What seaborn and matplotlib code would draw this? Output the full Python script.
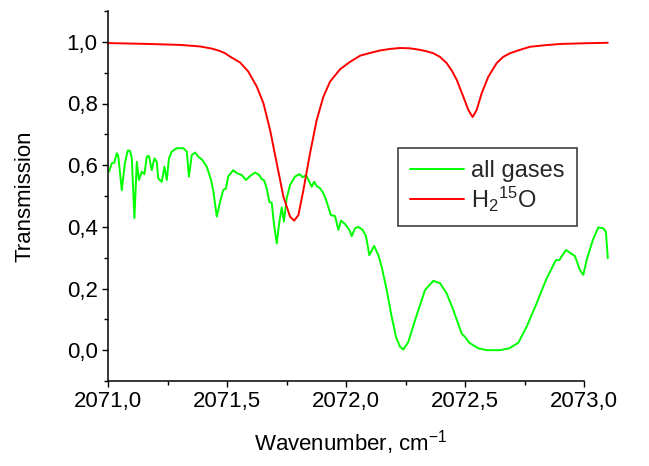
import matplotlib
matplotlib.use("Agg")
import matplotlib.pyplot as plt
import matplotlib.ticker as mticker
import seaborn as sns

# ---- data ----
green_x = [2071.004, 2071.016, 2071.026, 2071.037, 2071.043, 2071.058, 2071.071, 2071.083,
           2071.092, 2071.100, 2071.111, 2071.121, 2071.130, 2071.142, 2071.153, 2071.163,
           2071.172, 2071.184, 2071.195, 2071.205, 2071.211, 2071.226, 2071.237, 2071.247,
           2071.256, 2071.268, 2071.289, 2071.316, 2071.331, 2071.340, 2071.352, 2071.366,
           2071.379, 2071.396, 2071.415, 2071.433, 2071.442, 2071.457, 2071.471, 2071.484,
           2071.496, 2071.505, 2071.526, 2071.541, 2071.562, 2071.580, 2071.597, 2071.618,
           2071.636, 2071.646, 2071.655, 2071.667, 2071.678, 2071.688, 2071.697, 2071.709,
           2071.720, 2071.730, 2071.739, 2071.751, 2071.765, 2071.786, 2071.804, 2071.818,
           2071.832, 2071.849, 2071.856, 2071.866, 2071.877, 2071.891, 2071.905, 2071.919,
           2071.936, 2071.954, 2071.968, 2071.979, 2071.996, 2072.014, 2072.024, 2072.038,
           2072.052, 2072.070, 2072.084, 2072.098, 2072.118, 2072.136, 2072.150, 2072.171,
           2072.192, 2072.210, 2072.227, 2072.241, 2072.262, 2072.290, 2072.311, 2072.332,
           2072.367, 2072.395, 2072.423, 2072.451, 2072.486, 2072.500, 2072.518, 2072.556,
           2072.591, 2072.647, 2072.686, 2072.724, 2072.759, 2072.801, 2072.843, 2072.882,
           2072.896, 2072.924, 2072.941, 2072.962, 2072.983, 2072.997, 2073.011, 2073.037,
           2073.060, 2073.081, 2073.092, 2073.100]
green_y = [0.579, 0.606, 0.608, 0.639, 0.630, 0.519, 0.607, 0.647,
           0.647, 0.623, 0.428, 0.611, 0.552, 0.579, 0.571, 0.628,
           0.630, 0.584, 0.622, 0.611, 0.557, 0.546, 0.595, 0.552,
           0.622, 0.644, 0.655, 0.655, 0.644, 0.563, 0.633, 0.641,
           0.628, 0.617, 0.595, 0.552, 0.519, 0.433, 0.481, 0.519,
           0.525, 0.563, 0.584, 0.574, 0.568, 0.552, 0.565, 0.576,
           0.568, 0.554, 0.552, 0.525, 0.481, 0.478, 0.411, 0.346,
           0.417, 0.463, 0.417, 0.493, 0.536, 0.563, 0.571, 0.561,
           0.568, 0.541, 0.530, 0.546, 0.532, 0.525, 0.509, 0.481,
           0.438, 0.435, 0.390, 0.420, 0.409, 0.390, 0.370, 0.395,
           0.400, 0.390, 0.370, 0.308, 0.338, 0.308, 0.270, 0.195,
           0.108, 0.043, 0.011, 0.002, 0.027, 0.097, 0.146, 0.195,
           0.225, 0.217, 0.184, 0.130, 0.054, 0.043, 0.024, 0.006,
           0.000, 0.000, 0.006, 0.024, 0.076, 0.152, 0.233, 0.292,
           0.292, 0.325, 0.316, 0.305, 0.260, 0.244, 0.292, 0.357,
           0.398, 0.395, 0.384, 0.298]

red_x = [2071.000, 2071.176, 2071.303, 2071.387, 2071.437, 2071.471, 2071.492, 2071.513,
         2071.555, 2071.589, 2071.625, 2071.653, 2071.681, 2071.709, 2071.737, 2071.765,
         2071.782, 2071.800, 2071.821, 2071.849, 2071.877, 2071.905, 2071.933, 2071.975,
         2072.017, 2072.059, 2072.101, 2072.143, 2072.185, 2072.227, 2072.269, 2072.311,
         2072.340, 2072.367, 2072.395, 2072.423, 2072.445, 2072.465, 2072.493, 2072.514,
         2072.532, 2072.549, 2072.570, 2072.598, 2072.633, 2072.660, 2072.689, 2072.731,
         2072.773, 2072.836, 2072.899, 2072.983, 2073.100]
red_y = [0.996, 0.993, 0.990, 0.985, 0.978, 0.970, 0.963, 0.952,
         0.933, 0.904, 0.855, 0.801, 0.714, 0.606, 0.498, 0.433,
         0.420, 0.438, 0.519, 0.639, 0.747, 0.822, 0.871, 0.911,
         0.935, 0.955, 0.964, 0.972, 0.977, 0.980, 0.979, 0.974,
         0.969, 0.963, 0.951, 0.931, 0.906, 0.877, 0.822, 0.779,
         0.756, 0.779, 0.833, 0.887, 0.931, 0.951, 0.963, 0.974,
         0.984, 0.989, 0.993, 0.995, 0.997]

labels = ["all gases", "H$_2$$^{15}$O"]
colors = ["#00ff00", "#ff0000"]
x_ticks = [2071.0, 2071.5, 2072.0, 2072.5, 2073.0]
y_ticks = [0.0, 0.2, 0.4, 0.6, 0.8, 1.0]

sns.set_theme(style="ticks")
plt.rcParams["font.family"] = ["Liberation Sans", "DejaVu Sans"]
plt.rcParams["mathtext.default"] = "regular"

fig = plt.figure(figsize=(6.49, 4.66), dpi=100)
ax = fig.add_axes([108/649, 85/466, 476/649, 370/466])

sns.lineplot(x=green_x, y=green_y, ax=ax, color=colors[0], lw=1.4, sort=False,
             estimator=None, label=labels[0], clip_on=False)
sns.lineplot(x=red_x, y=red_y, ax=ax, color=colors[1], lw=1.4, sort=False,
             estimator=None, label=labels[1], clip_on=False)

ax.set_xlim(2071.0, 2073.0)
ax.set_ylim(-0.1, 1.1)
ax.set_xticks(x_ticks)
ax.set_yticks(y_ticks)
ax.xaxis.set_minor_locator(mticker.MultipleLocator(0.25))
ax.yaxis.set_minor_locator(mticker.MultipleLocator(0.1))
comma = lambda v, p: f"{v:.1f}".replace(".", ",")
ax.xaxis.set_major_formatter(mticker.FuncFormatter(comma))
ax.yaxis.set_major_formatter(mticker.FuncFormatter(comma))

for s in ["top", "right"]:
    ax.spines[s].set_visible(False)
for s in ["left", "bottom"]:
    ax.spines[s].set_color("black")
    ax.spines[s].set_linewidth(1.1)

ax.tick_params(axis="both", which="major", direction="out", length=4.5, width=1.0,
               color="black", labelsize=16, labelcolor="black", pad=3)
ax.tick_params(axis="both", which="minor", direction="out", length=2.8, width=1.0,
               color="black")

ax.set_xlabel("Wavenumber, cm$^{-1}$", fontsize=16, color="black")
ax.set_ylabel("Transmission", fontsize=16, color="black")
ax.xaxis.set_label_coords(0.51, (381 - 443) / 370)
ax.xaxis.label.set_va("center")
ax.yaxis.set_label_coords((25 - 108) / 476, 0.5)
ax.yaxis.label.set_va("center")
ax.grid(False)

leg = ax.legend(loc="upper left", bbox_to_anchor=((398 - 108) / 476, (381 - 148) / 370),
                borderaxespad=0, fontsize=17, frameon=True, fancybox=False,
                handlelength=2.3, handletextpad=0.3, labelspacing=0.12, borderpad=0.5)
leg.get_frame().set_edgecolor("#404040")
leg.get_frame().set_linewidth(1.2)
leg.get_frame().set_alpha(1)

fig.savefig("out.png", dpi=100)
